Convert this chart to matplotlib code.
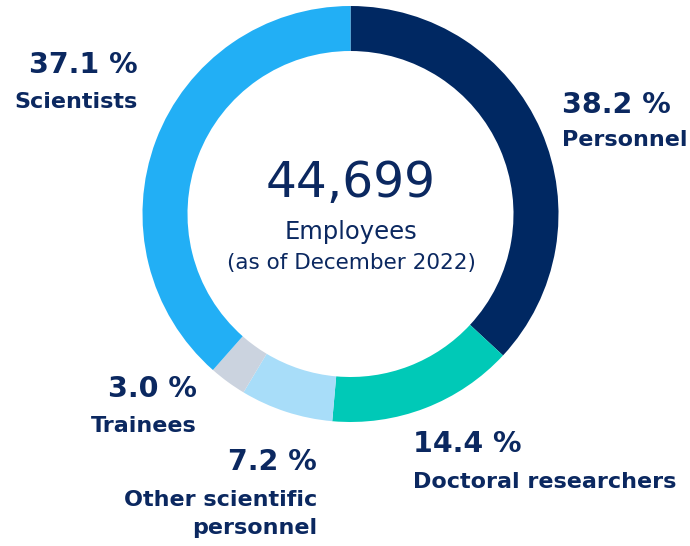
import matplotlib.pyplot as plt

categories = ['Personnel', 'Doctoral researchers', 'Other scientific\npersonnel',
              'Trainees', 'Scientists']
shares = [38.2, 14.4, 7.2, 3.0, 37.1]          # printed percentages
arcs = [36.9, 14.5, 7.2, 2.9, 38.5]            # ring segments as drawn in the source graphic
colors = ['#002862', '#00c9b7', '#a8ddf9', '#cbd3df', '#22aff5']
total = '44,699'

navy = '#0b2860'
W, H = 690, 546

fig = plt.figure(figsize=(6.9, 5.46), dpi=100)
ax = fig.add_axes([0, 0, 1, 1])

# donut, center/radius in pixel units of the figure
ax.pie(arcs, colors=colors, startangle=90, counterclock=False,
       radius=208, center=(350.5, H - 214),
       wedgeprops=dict(width=45, linewidth=0))
ax.set_xlim(0, W)
ax.set_ylim(0, H)
ax.set_aspect('equal')
ax.axis('off')

# centre text
ax.text(351, H - 197, total, ha='center', va='baseline', fontsize=35,
        color=navy)
ax.text(351, H - 239, 'Employees', ha='center', va='baseline', fontsize=17.5,
        color=navy)
ax.text(351, H - 269, '(as of December 2022)', ha='center', va='baseline',
        fontsize=15.5, color=navy)

# (x, baseline of pct, baseline of first name line, ha)
label_pos = [
    (562, 113, 146, 'left'),
    (413, 452, 488, 'left'),
    (317, 470, 506, 'right'),
    (197, 397, 432, 'right'),
    (138, 73, 108, 'right'),
]
for cat, val, (x, yp, yn, ha) in zip(categories, shares, label_pos):
    ax.text(x, H - yp, '{:.1f} %'.format(val), ha=ha, va='baseline',
            fontsize=20.5, fontweight='bold', color=navy)
    for i, line in enumerate(cat.split('\n')):
        ax.text(x, H - yn - 28 * i, line, ha=ha, va='baseline', fontsize=16,
                fontweight='bold', color=navy)

fig.savefig('out.png', dpi=100)
